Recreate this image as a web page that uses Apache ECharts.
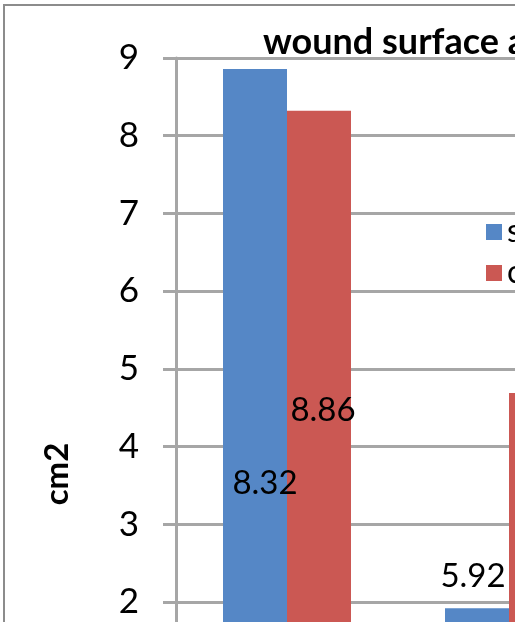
<!DOCTYPE html>
<html>
<head>
<meta charset="utf-8">
<script src="https://cdn.jsdelivr.net/npm/echarts@6/dist/echarts.min.js"></script>
<style>
  html, body { margin: 0; padding: 0; background: #fff; }
  #chart { width: 515px; height: 622px; }
</style>
</head>
<body>
<div id="chart"></div>
<script>
// ---- data ----
const categories = ['before', 'after'];
const seriesNames = ['study group', 'control group'];
const studyValues = [8.86, 1.92];
const controlValues = [8.32, 4.69];
const studyLabels = ['8.32', '5.92'];
const controlLabels = ['8.86', ''];
const yMin = 0, yMax = 9, yInterval = 1;
const titleText = 'wound surface area';
const yAxisTitle = 'cm2';

// ---- styling (not data) ----
const FONT = 'Lato';
const gridColor = '#a6a6a6';
const studyLabelStyle = [
  { position: 'inside', offset: [10, 70] },
  { position: 'inside', offset: [-4, -106] }
];
const controlLabelStyle = [
  { position: 'inside', offset: [4, -24] },
  { show: false }
];

function buildData(values, labels, styles) {
  return values.map((v, i) => ({
    value: v,
    label: Object.assign({
      show: labels[i] !== '',
      formatter: labels[i],
      color: '#000',
      fontFamily: FONT,
      fontSize: 33
    }, styles[i])
  }));
}

const chart = echarts.init(document.getElementById('chart'), null, { renderer: 'canvas' });
chart.setOption({
  animation: false,
  backgroundColor: '#fff',
  title: {
    text: titleText,
    left: 258,
    top: 19,
    textStyle: { fontFamily: FONT, fontWeight: 'bold', fontSize: 36, color: '#000' }
  },
  legend: {
    orient: 'vertical',
    left: 481,
    top: 211,
    itemWidth: 16,
    itemHeight: 16,
    itemGap: 9,
    icon: 'rect',
    textStyle: { fontFamily: FONT, fontSize: 32, color: '#000' },
    data: seriesNames
  },
  grid: {
    left: 176,
    top: 58,
    width: 444,
    height: 699.4,
    containLabel: false,
    outerBoundsMode: 'none'
  },
  xAxis: {
    type: 'category',
    data: categories,
    axisLine: { lineStyle: { color: gridColor, width: 3 } },
    axisTick: { show: false },
    axisLabel: { fontFamily: FONT, fontSize: 32, color: '#000' },
    splitLine: { show: false }
  },
  yAxis: {
    type: 'value',
    min: yMin,
    max: yMax,
    interval: yInterval,
    axisLine: { show: true, lineStyle: { color: gridColor, width: 3 } },
    axisTick: { show: true, length: 13, lineStyle: { color: gridColor, width: 3 } },
    axisLabel: { margin: 37, fontFamily: FONT, fontSize: 35, color: '#000' },
    splitLine: { show: true, lineStyle: { color: gridColor, width: 3 } }
  },
  graphic: [
    {
      type: 'rect',
      shape: { x: 4, y: 5, width: 1200, height: 1200 },
      style: { fill: 'none', stroke: '#8c8c8c', lineWidth: 2 },
      silent: true
    },
    {
      type: 'text',
      x: 57,
      y: 474,
      rotation: Math.PI / 2,
      style: {
        text: yAxisTitle,
        align: 'center',
        verticalAlign: 'middle',
        fontFamily: FONT,
        fontWeight: 'bold',
        fontSize: 33,
        fill: '#000'
      }
    }
  ],
  series: [
    {
      name: seriesNames[0],
      type: 'bar',
      barWidth: 64,
      barGap: '0%',
      itemStyle: { color: '#5587C6' },
      data: buildData(studyValues, studyLabels, studyLabelStyle)
    },
    {
      name: seriesNames[1],
      type: 'bar',
      barWidth: 64,
      barGap: '0%',
      itemStyle: { color: '#CB5853' },
      data: buildData(controlValues, controlLabels, controlLabelStyle)
    }
  ]
});
</script>
</body>
</html>
